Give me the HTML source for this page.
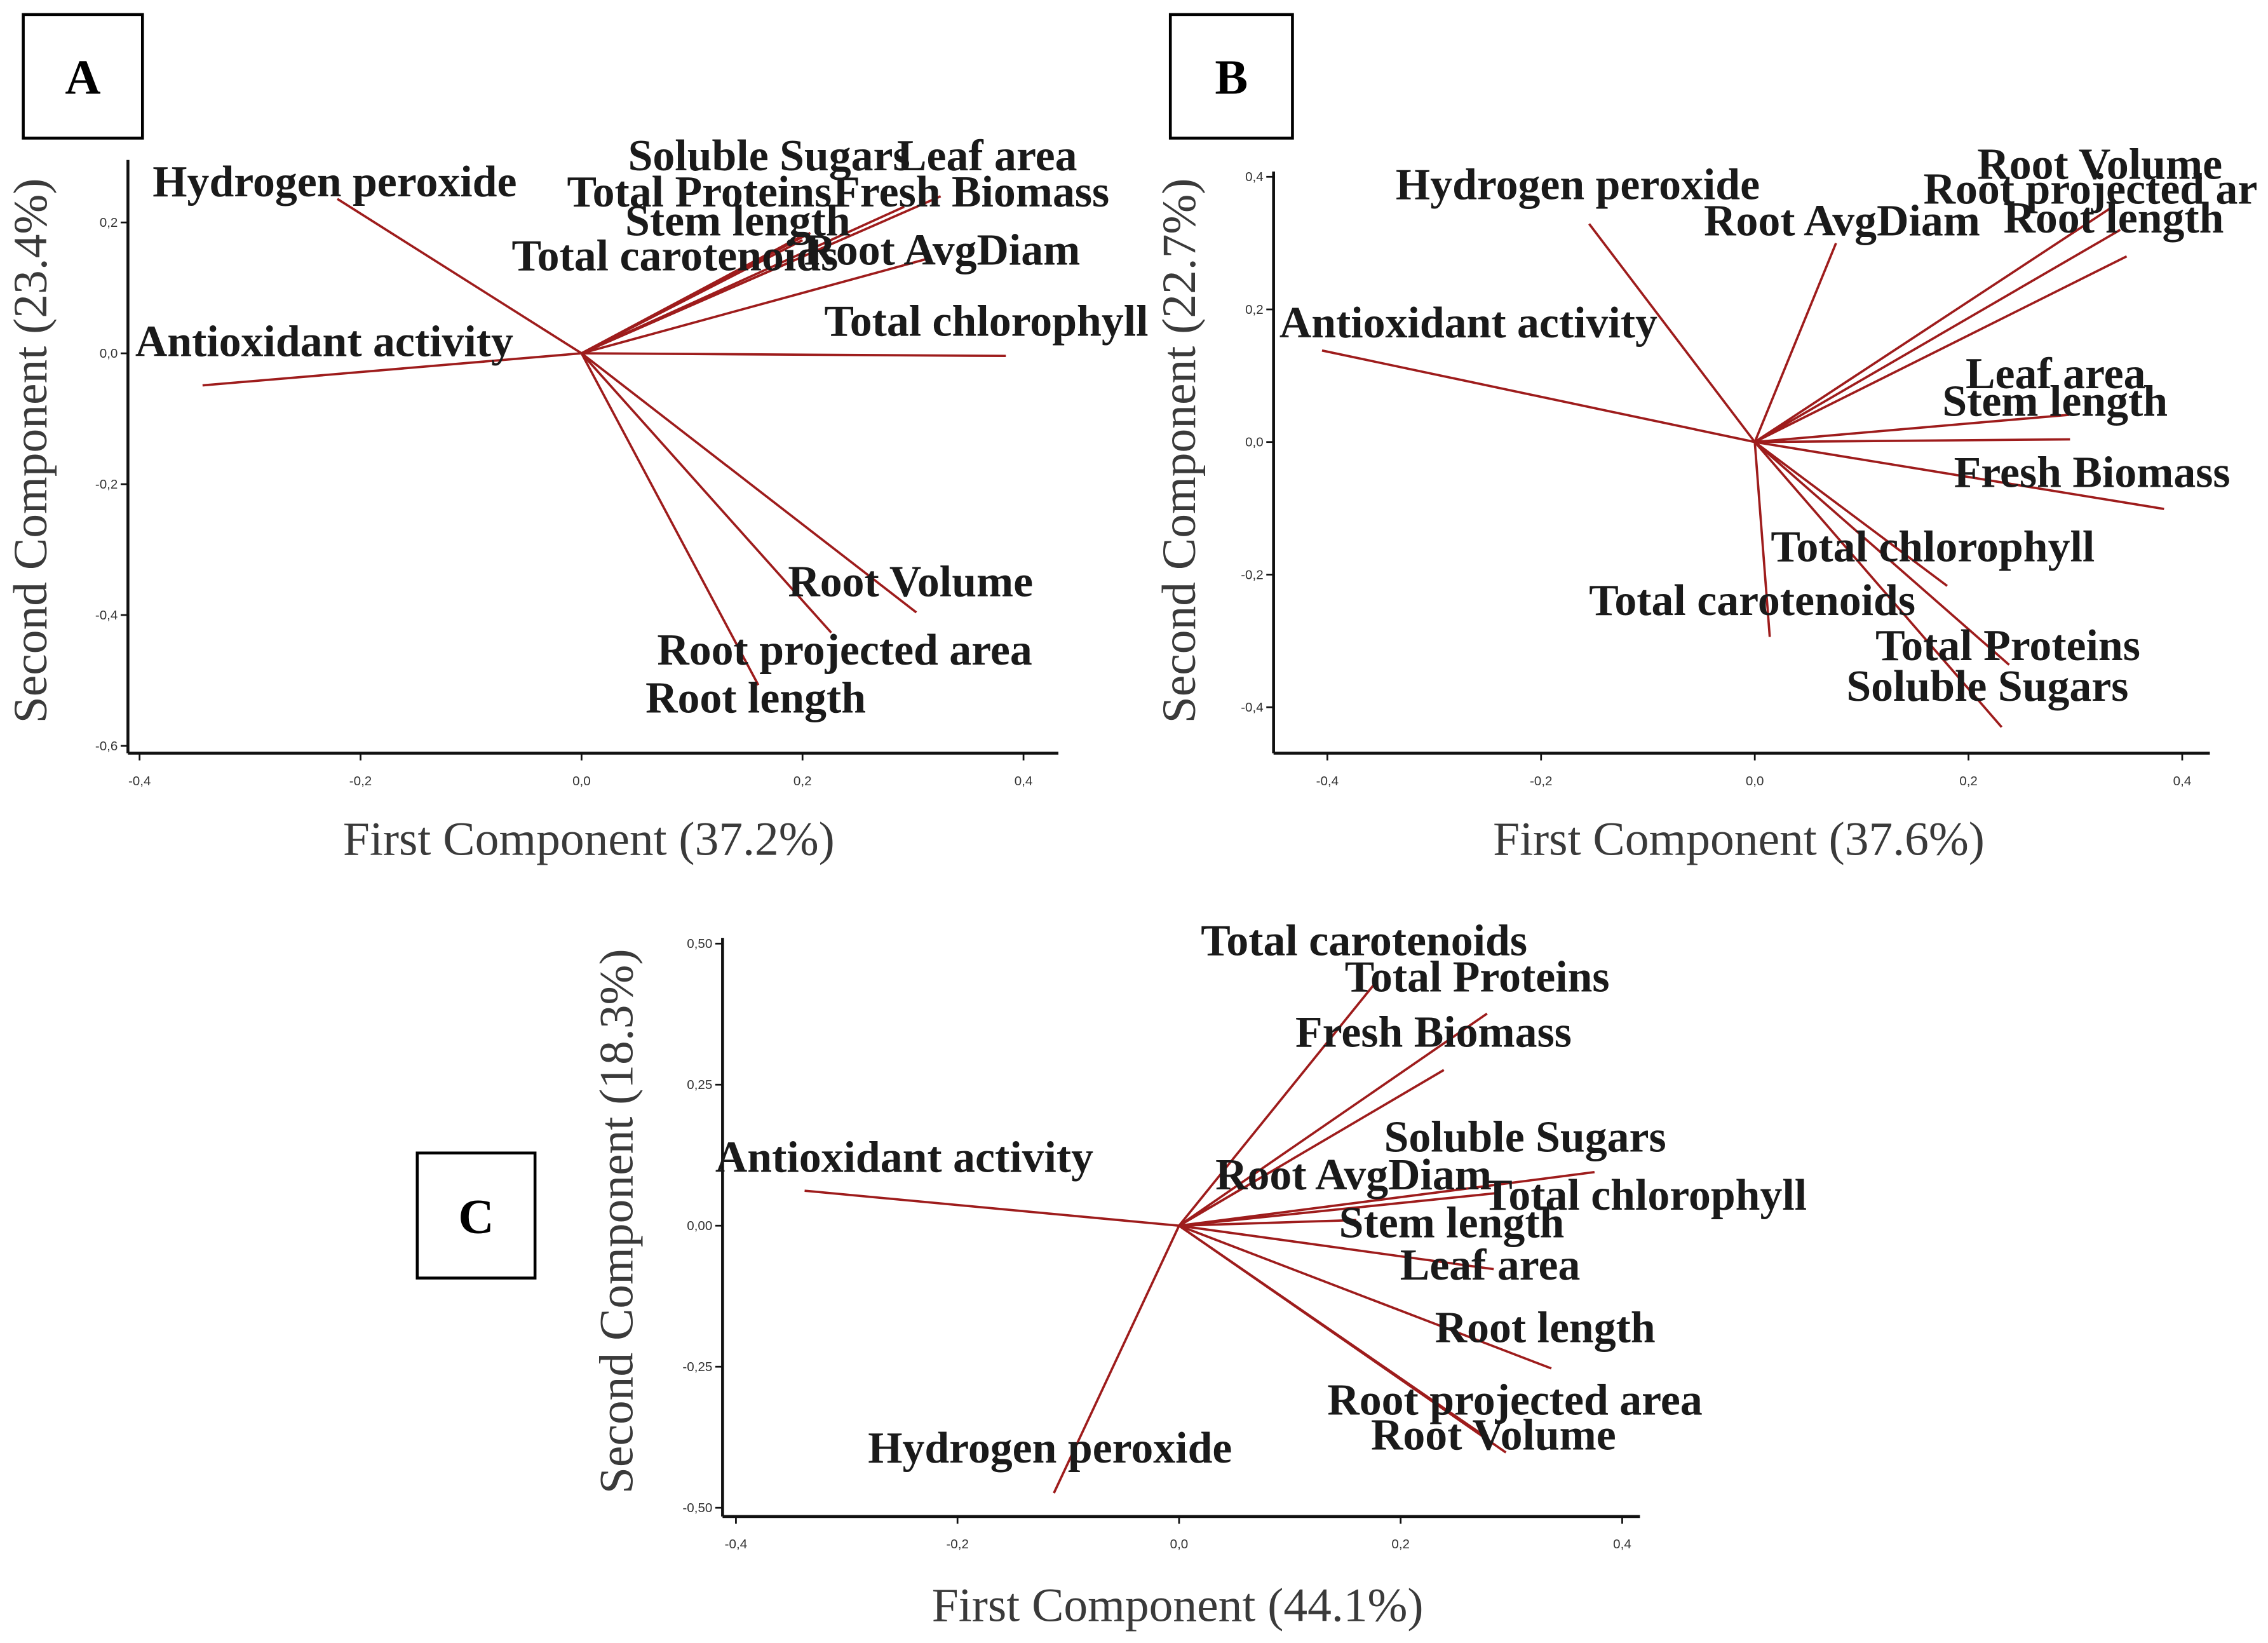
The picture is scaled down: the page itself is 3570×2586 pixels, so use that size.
<!DOCTYPE html>
<html><head><meta charset="utf-8">
<style>
html,body{margin:0;padding:0;background:#fff;}
svg{display:block;}
.lbl{font-family:"Liberation Serif",serif;font-weight:bold;font-size:30.5px;fill:#1a1a1a;}
.ttl{font-family:"Liberation Serif",serif;font-size:33px;fill:#3a3a3a;}
.tick{font-family:"Liberation Sans",sans-serif;font-size:9px;fill:#333;}
.letter{font-family:"Liberation Serif",serif;font-weight:bold;font-size:34px;fill:#000;}
</style></head>
<body>
<svg id="chart" width="3570" height="2586" viewBox="0 0 1560 1130" preserveAspectRatio="none" xmlns="http://www.w3.org/2000/svg"></svg>
<script>
// ---- Data (loadings) ----
const varsA = ["Hydrogen peroxide","Antioxidant activity","Total chlorophyll","Root AvgDiam","Fresh Biomass","Leaf area","Soluble Sugars","Total Proteins","Stem length","Total carotenoids","Root Volume","Root projected area","Root length"];
const pc1A = [-0.221,-0.343,0.384,0.312,0.325,0.292,0.207,0.200,0.200,0.187,0.303,0.226,0.160];
const pc2A = [0.236,-0.049,-0.004,0.144,0.240,0.224,0.184,0.180,0.173,0.138,-0.396,-0.427,-0.507];

const varsB = ["Hydrogen peroxide","Antioxidant activity","Root AvgDiam","Root Volume","Root projected ar","Root length","Leaf area","Stem length","Fresh Biomass","Total chlorophyll","Total carotenoids","Total Proteins","Soluble Sugars"];
const pc1B = [-0.155,-0.405,0.076,0.335,0.342,0.348,0.294,0.295,0.383,0.180,0.014,0.238,0.231];
const pc2B = [0.329,0.138,0.300,0.355,0.320,0.280,0.041,0.004,-0.101,-0.217,-0.294,-0.336,-0.430];

const varsC = ["Antioxidant activity","Hydrogen peroxide","Total carotenoids","Total Proteins","Fresh Biomass","Soluble Sugars","Total chlorophyll","Root AvgDiam","Stem length","Leaf area","Root length","Root projected area","Root Volume"];
const pc1C = [-0.338,-0.113,0.177,0.278,0.239,0.375,0.288,0.058,0.160,0.284,0.336,0.278,0.295];
const pc2C = [0.062,-0.474,0.430,0.376,0.276,0.095,0.058,0.067,0.010,-0.077,-0.253,-0.376,-0.402];

const xTicks = [-0.4,-0.2,0.0,0.2,0.4];
const xTickLabels = ["-0,4","-0,2","0,0","0,2","0,4"];
const yTicksA = [0.2,0.0,-0.2,-0.4,-0.6];
const yTickLabelsA = ["0,2","0,0","-0,2","-0,4","-0,6"];
const yTicksB = [0.4,0.2,0.0,-0.2,-0.4];
const yTickLabelsB = ["0,4","0,2","0,0","-0,2","-0,4"];
const yTicksC = [0.5,0.25,0.0,-0.25,-0.5];
const yTickLabelsC = ["0,50","0,25","0,00","-0,25","-0,50"];

// ---- Layout (label anchor positions, pixels; not data) ----
const labelPosA = [[105,135],[93,245],[567,231],[553,182],[573,142],[617,117],[432,117],[390,142],[430,162],[352,186],[542,410],[452,457],[444,490]];
const labelPosB = [[960,137],[880,232],[1172,162],[1360,123],[1323,140],[1378,160],[1352,267],[1336,286],[1344,335],[1218,386],[1093,423],[1290,454],[1270,482]];
const labelPosC = [[492,806],[597,1006],[826,657],[925,682],[891,720],[952,792],[1020,832],[836,818],[921,851],[963,880],[987,923],[913,973],[943,997]];

const NS="http://www.w3.org/2000/svg";
const svg=document.getElementById('chart');
function mk(tag,attrs,parent){const e=document.createElementNS(NS,tag);for(const k in attrs)e.setAttribute(k,attrs[k]);(parent||svg).appendChild(e);return e;}

function panel(p){
  const g=mk('g',{});
  
  
  const sx=v=>p.ox+v*p.kx, sy=v=>p.oy-v*p.ky;
  const ya=mk('line',{x1:p.axL,y1:p.axT,x2:p.axL,y2:p.axB,stroke:'#111','stroke-width':2},g);
  
  
  const xa=mk('line',{x1:p.axL,y1:p.axB,x2:p.axR,y2:p.axB,stroke:'#111','stroke-width':2},g);
  
  
  p.xt.forEach((v,i)=>{
    mk('line',{x1:sx(v),y1:p.axB,x2:sx(v),y2:p.axB+5,stroke:'#111','stroke-width':1.2},g);
    const t=mk('text',{x:sx(v),y:p.axB+22,'text-anchor':'middle',class:'tick'},g);
    t.textContent=p.xl[i];
    
    
  });
  p.yt.forEach((v,i)=>{
    mk('line',{x1:p.axL-5,y1:sy(v),x2:p.axL,y2:sy(v),stroke:'#111','stroke-width':1.2},g);
    const t=mk('text',{x:p.axL-7,y:sy(v)+3,'text-anchor':'end',class:'tick'},g);
    t.textContent=p.yl[i];
    
    
  });
  p.names.forEach((n,i)=>{
    const l=mk('line',{x1:p.ox,y1:p.oy,x2:sx(p.x[i]),y2:sy(p.y[i]),stroke:'#9e1c1c','stroke-width':1.6},g);
    
    
  });
  p.names.forEach((n,i)=>{
    const t=mk('text',{x:p.lp[i][0],y:p.lp[i][1],class:'lbl'},g);
    t.textContent=n;
    
    
  });
  const xt=mk('text',{x:p.xtx,y:p.xty,'text-anchor':'middle',class:'ttl'},g);
  xt.textContent=p.xtitle;
  
  
  const yt=mk('text',{x:0,y:0,'text-anchor':'middle',class:'ttl',transform:`translate(${p.ytx},${p.yty}) rotate(-90)`},g);
  yt.textContent=p.ytitle;
  
  
  const b=mk('rect',{x:p.box[0],y:p.box[1],width:p.box[2],height:p.box[3],fill:'#fff',stroke:'#000','stroke-width':2},g);
  
  
  const bt=mk('text',{x:p.box[0]+p.box[2]/2,y:p.box[1]+p.box[3]/2+12,'text-anchor':'middle',class:'letter'},g);
  bt.textContent=p.id;
  
  
}

panel({id:'A',ox:400,oy:243,kx:760,ky:450,axL:88,axT:110,axB:518,axR:728,
  xt:xTicks,xl:xTickLabels,yt:yTicksA,yl:yTickLabelsA,names:varsA,x:pc1A,y:pc2A,lp:labelPosA,
  xtitle:'First Component (37.2%)',xtx:405,xty:588,ytitle:'Second Component (23.4%)',ytx:32,yty:310,box:[16,10,82,85]});
panel({id:'B',ox:1207,oy:304,kx:735,ky:456,axL:876,axT:118,axB:518,axR:1520,
  xt:xTicks,xl:xTickLabels,yt:yTicksB,yl:yTickLabelsB,names:varsB,x:pc1B,y:pc2B,lp:labelPosB,
  xtitle:'First Component (37.6%)',xtx:1196,xty:588,ytitle:'Second Component (22.7%)',ytx:822,yty:310,box:[805,10,84,85]});
panel({id:'C',ox:811,oy:843,kx:762,ky:388,axL:497,axT:645,axB:1043,axR:1128,
  xt:xTicks,xl:xTickLabels,yt:yTicksC,yl:yTickLabelsC,names:varsC,x:pc1C,y:pc2C,lp:labelPosC,
  xtitle:'First Component (44.1%)',xtx:810,xty:1115,ytitle:'Second Component (18.3%)',ytx:435,yty:840,box:[287,793,81,86]});
</script>
</body></html>
